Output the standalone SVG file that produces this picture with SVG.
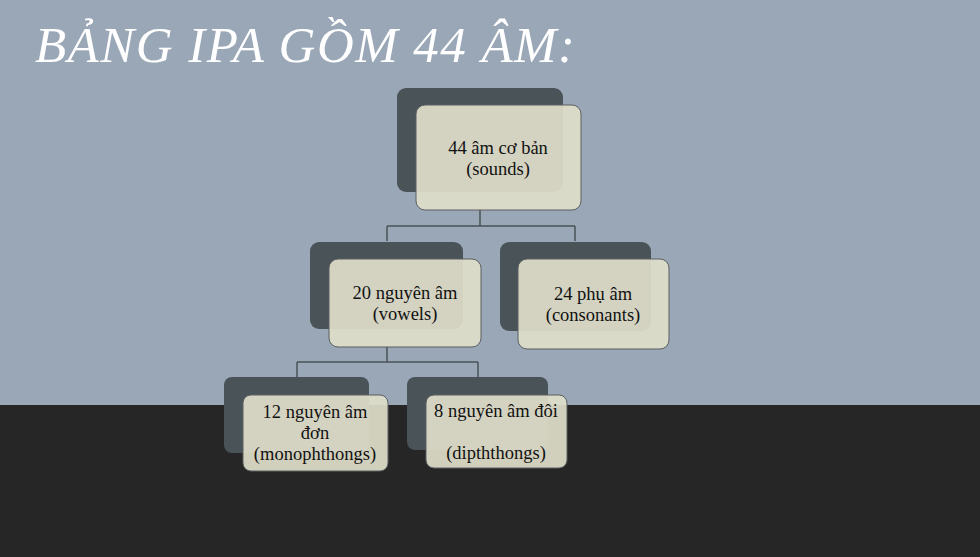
<svg xmlns="http://www.w3.org/2000/svg" width="980" height="557" viewBox="0 0 980 557">
<style>
.back{fill:#4A5357;}
.front{fill:#E0DECA;fill-opacity:0.92;stroke:#5A5F60;stroke-width:1;}
.lbl{font-family:"Liberation Serif","Times New Roman",serif;font-size:18.5px;fill:#111111;text-anchor:middle;}
.conn{fill:none;stroke:#4A5357;stroke-width:1.5;}
</style>
<rect x="0" y="0" width="980" height="405" fill="#9AA7B7"/>
<rect x="0" y="405" width="980" height="152" fill="#262626"/>
<text x="35" y="62" font-family="Liberation Serif, serif" font-style="italic" font-size="51" fill="#FFFFFF" textLength="540" lengthAdjust="spacing">BẢNG IPA GỒM 44 ÂM:</text>
<g id="connectors">
<path class="conn" d="M480 210 V226 M387 226 H575 M387 226 V241 M575 226 V241"/>
<path class="conn" d="M387 347 V362 M297 362 H478 M297 362 V377 M478 362 V377"/>
</g>
<g id="node-root">
<rect class="back" x="397" y="88" width="166" height="104" rx="9"/>
<rect class="front" x="416" y="105" width="165" height="105" rx="9"/>
<text class="lbl" x="498" y="154">44 âm cơ bản</text>
<text class="lbl" x="498" y="175">(sounds)</text>
</g>
<g id="node-vowels">
<rect class="back" x="310" y="242" width="153" height="87" rx="9"/>
<rect class="front" x="329" y="259" width="152" height="88" rx="9"/>
<text class="lbl" x="405" y="299">20 nguyên âm</text>
<text class="lbl" x="405" y="320">(vowels)</text>
</g>
<g id="node-consonants">
<rect class="back" x="500" y="242" width="151" height="89" rx="9"/>
<rect class="front" x="518" y="259" width="151" height="90" rx="9"/>
<text class="lbl" x="593" y="300">24 phụ âm</text>
<text class="lbl" x="593" y="321">(consonants)</text>
</g>
<g id="node-monophthongs">
<rect class="back" x="224" y="377" width="145" height="76" rx="8"/>
<rect class="front" x="243" y="395" width="145" height="76" rx="8"/>
<text class="lbl" x="315" y="418">12 nguyên âm</text>
<text class="lbl" x="315" y="439">đơn</text>
<text class="lbl" x="315" y="460">(monophthongs)</text>
</g>
<g id="node-diphthongs">
<rect class="back" x="407" y="377" width="141" height="73" rx="8"/>
<rect class="front" x="426" y="395" width="141" height="73" rx="8"/>
<text class="lbl" x="496" y="417">8 nguyên âm đôi</text>
<text class="lbl" x="496" y="459">(dipththongs)</text>
</g>
</svg>
